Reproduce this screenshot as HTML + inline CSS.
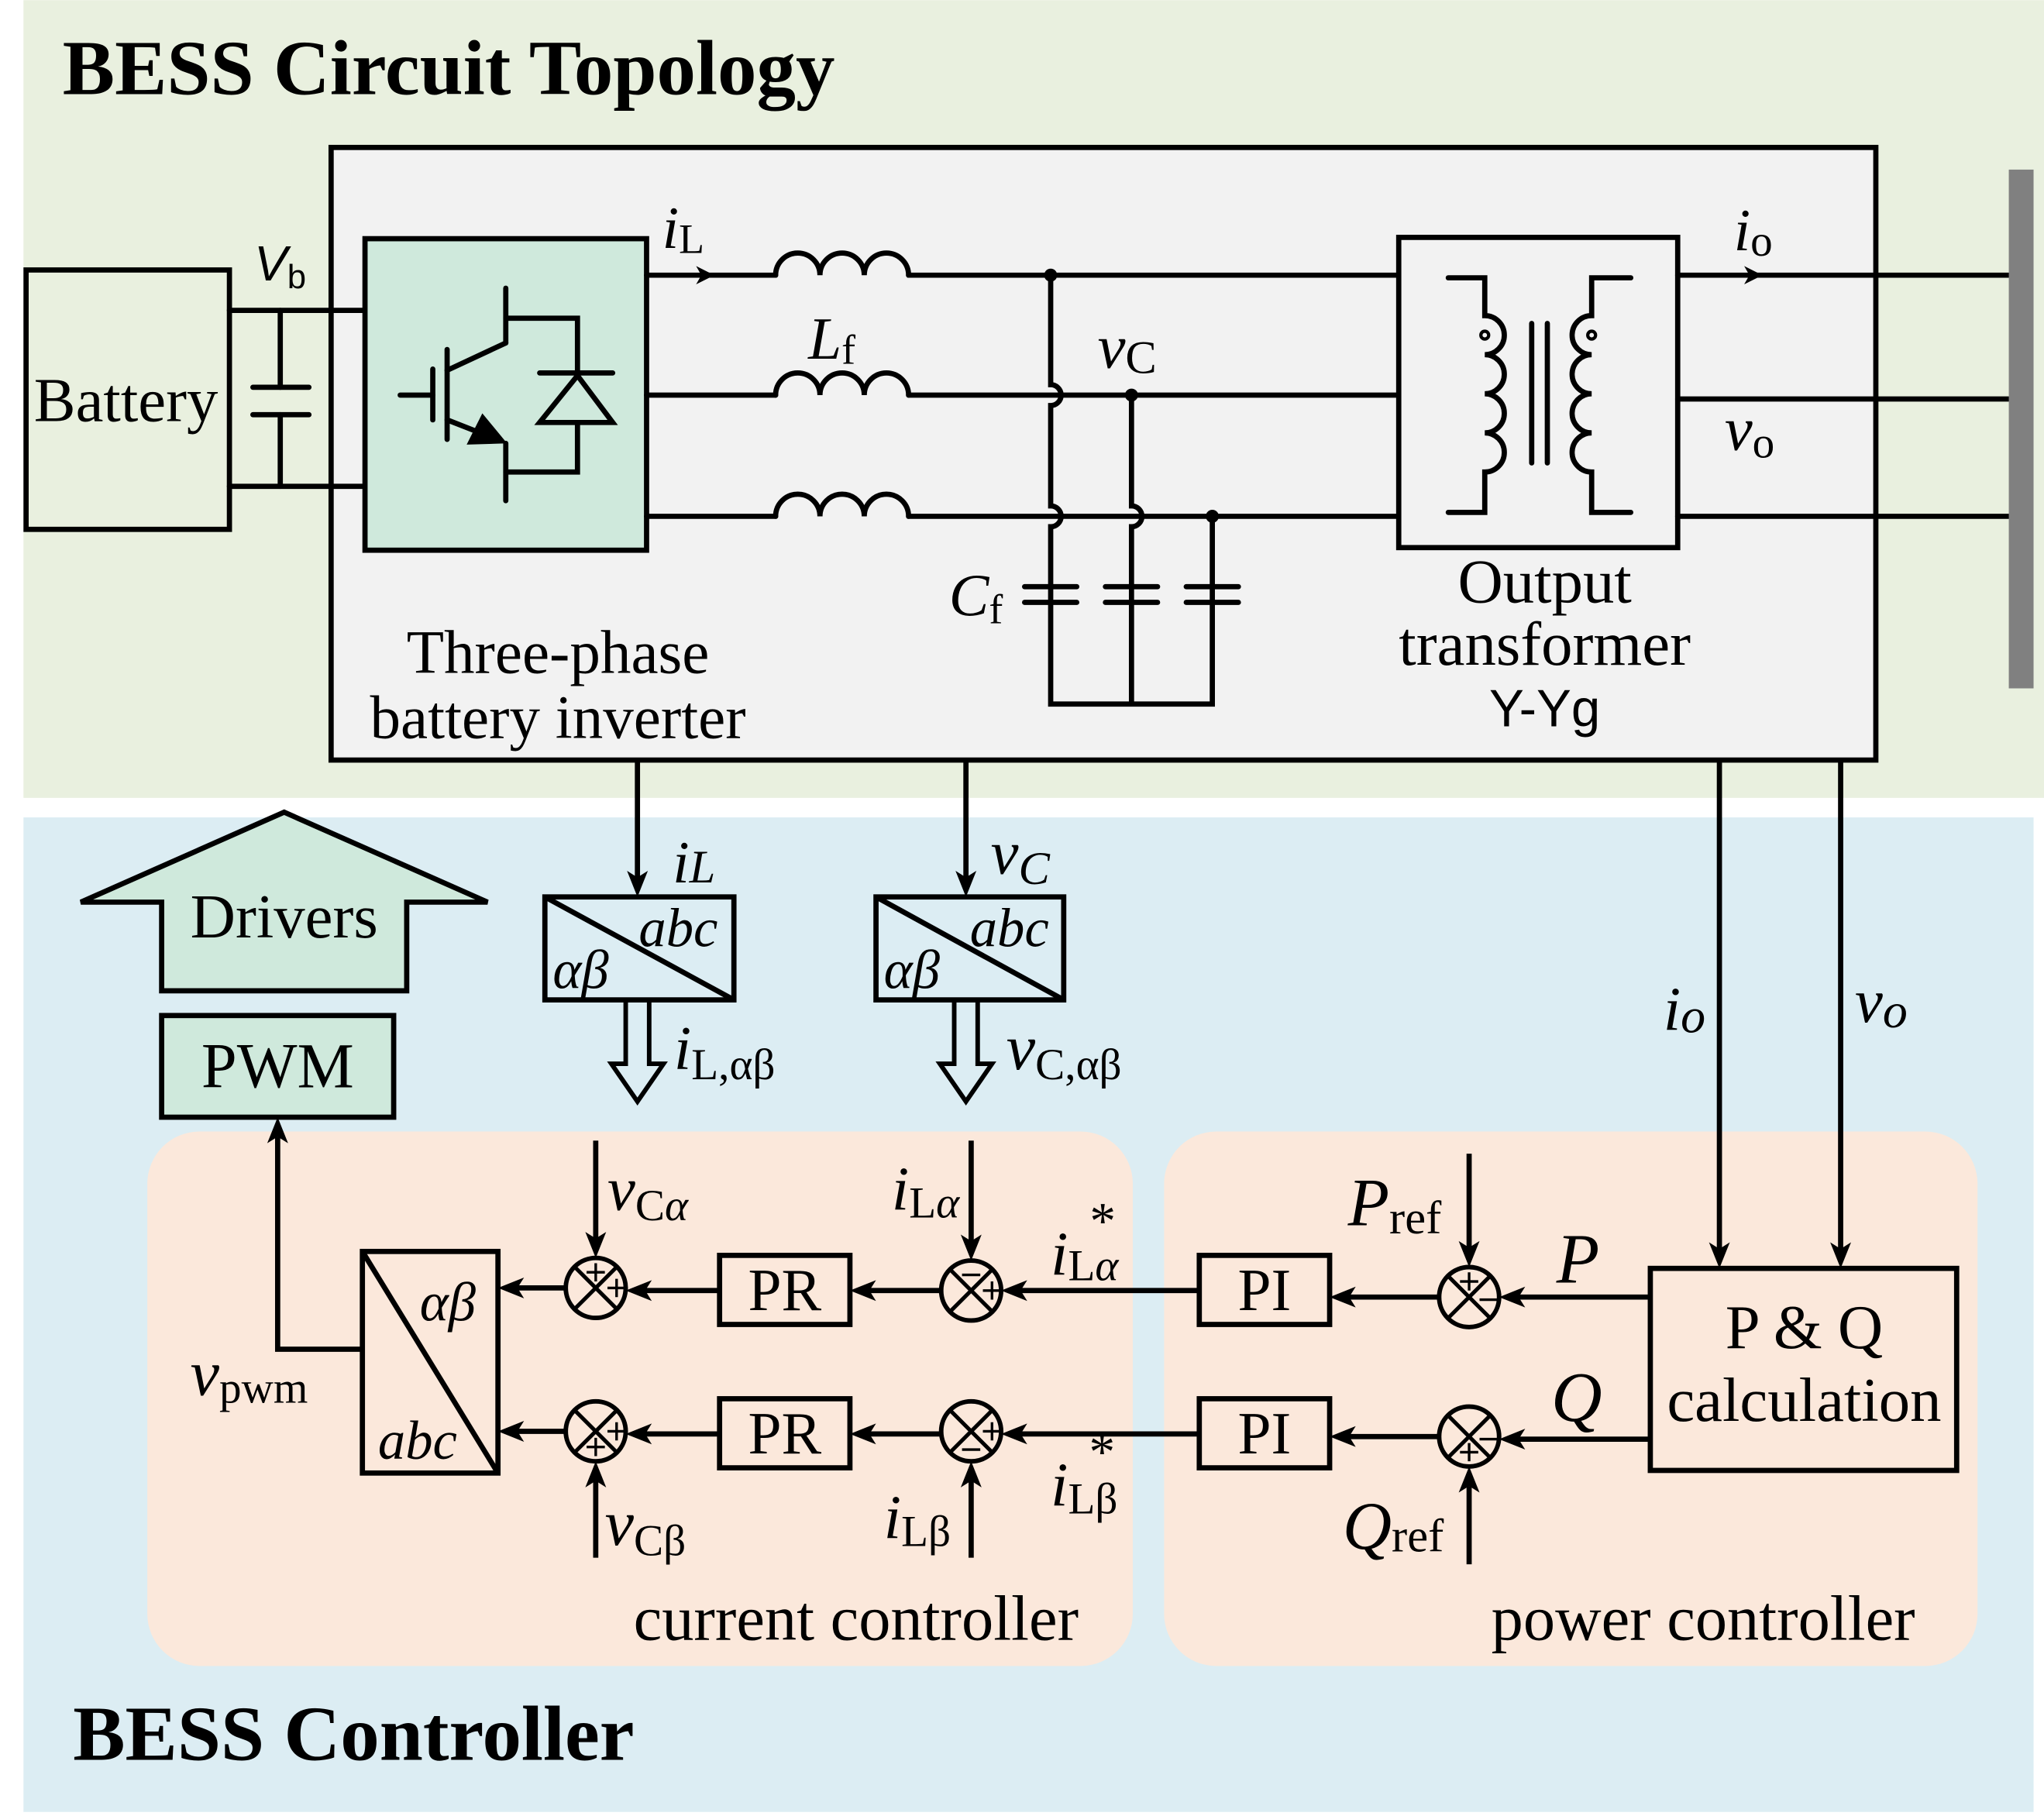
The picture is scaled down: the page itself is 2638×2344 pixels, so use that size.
<!DOCTYPE html>
<html><head><meta charset="utf-8"><style>
html,body{margin:0;padding:0;background:#fff}
svg{display:block}
text{font-family:"Liberation Serif",serif;fill:#000}
</style></head><body>
<svg width="2638" height="2344" viewBox="0 0 1568 1393" xmlns="http://www.w3.org/2000/svg">
<rect x="0" y="0" width="1568" height="1393" fill="#fff"/>
<rect x="18" y="0" width="1550" height="612" fill="#e9f0df"/>
<rect x="18" y="627" width="1542" height="763" fill="#dcedf3"/>
<text x="48" y="72" font-size="60" font-weight="bold">BESS Circuit Topology</text>
<text x="56" y="1350" font-size="60" font-weight="bold">BESS Controller</text>

<g stroke="#000" stroke-width="4" fill="none" stroke-linecap="round">
<rect x="254" y="113" width="1185" height="470" fill="#f2f2f2"/>
<rect x="20" y="207" width="156" height="199" fill="none"/>
<line x1="176" y1="238" x2="280" y2="238"/>
<line x1="176" y1="373" x2="280" y2="373"/>
<line x1="215" y1="238" x2="215" y2="297"/>
<line x1="215" y1="318" x2="215" y2="373"/>
<line x1="194" y1="297" x2="237" y2="297"/>
<line x1="194" y1="318" x2="237" y2="318"/>
<rect x="280" y="183" width="216" height="239" fill="#cfe9dc"/>
<!-- IGBT -->
<line x1="388" y1="221" x2="388" y2="263"/>
<polyline points="388,244 443,244 443,286"/>
<line x1="388" y1="263" x2="343" y2="284"/>
<line x1="343" y1="268" x2="343" y2="337"/>
<line x1="332" y1="283" x2="332" y2="322"/>
<line x1="307" y1="303" x2="332" y2="303"/>
<line x1="343" y1="322" x2="366" y2="331"/>
<polyline points="388,340 388,384"/>
<polyline points="388,362 443,362 443,324"/>
<line x1="414" y1="286" x2="470" y2="286"/>
<polygon points="443,288 414,324 470,324"/>
<!-- lines -->
<line x1="496" y1="211" x2="595" y2="211"/>
<line x1="496" y1="303" x2="595" y2="303"/>
<line x1="496" y1="396" x2="595" y2="396"/>
<path d="M595,211 a17,17 0 0 1 34,0 a17,17 0 0 1 34,0 a17,17 0 0 1 34,0"/>
<path d="M595,303 a17,17 0 0 1 34,0 a17,17 0 0 1 34,0 a17,17 0 0 1 34,0"/>
<path d="M595,396 a17,17 0 0 1 34,0 a17,17 0 0 1 34,0 a17,17 0 0 1 34,0"/>
<line x1="697" y1="211" x2="1073" y2="211"/>
<line x1="697" y1="303" x2="1073" y2="303"/>
<line x1="697" y1="396" x2="1073" y2="396"/>
<path d="M806,211 V295 a8,8 0 0 1 0,16 V388 a8,8 0 0 1 0,16 V462"/>
<path d="M868,303 V388 a8,8 0 0 1 0,16 V462"/>
<path d="M930,396 V462"/>
<line x1="786" y1="450" x2="826" y2="450"/><line x1="786" y1="462" x2="826" y2="462"/>
<line x1="848" y1="450" x2="888" y2="450"/><line x1="848" y1="462" x2="888" y2="462"/>
<line x1="910" y1="450" x2="950" y2="450"/><line x1="910" y1="462" x2="950" y2="462"/>
<path d="M806,462 V540 H930 V462 M868,462 V540"/>
<!-- transformer -->
<rect x="1073" y="182" width="214" height="238" fill="#f2f2f2"/>
<path d="M1111,213 H1139 V242 a15,15 0 0 1 0,30 a15,15 0 0 1 0,30 a15,15 0 0 1 0,30 a15,15 0 0 1 0,30 V393 H1111"/>
<path d="M1251,213 H1221 V242 a15,15 0 0 0 0,30 a15,15 0 0 0 0,30 a15,15 0 0 0 0,30 a15,15 0 0 0 0,30 V393 H1251"/>
<line x1="1175" y1="248" x2="1175" y2="355"/>
<line x1="1187" y1="248" x2="1187" y2="355"/>
<circle cx="1139" cy="257" r="3" stroke-width="2.5"/>
<circle cx="1221" cy="257" r="3" stroke-width="2.5"/>
<line x1="1287" y1="211" x2="1541" y2="211"/>
<line x1="1287" y1="306" x2="1541" y2="306"/>
<line x1="1287" y1="396" x2="1541" y2="396"/>
</g>
<rect x="1541" y="130" width="19" height="398" fill="#808080"/>
<g fill="#000">
<circle cx="806" cy="211" r="5"/><circle cx="868" cy="303" r="5"/><circle cx="930" cy="396" r="5"/>
<polygon points="534,204 548,211 534,218 538,211"/>
<polygon points="1338,204 1352,211 1338,218 1342,211"/>
<polygon points="389,340 370,317 358,341"/>
</g>
<text x="26" y="323" font-size="48">Battery</text>
<text x="195" y="215" style="font-family:'Liberation Sans',sans-serif" font-size="38" font-style="italic">V<tspan font-style="normal" font-size="26" dy="6">b</tspan></text>
<text x="508" y="190" font-size="46" font-style="italic">i<tspan font-style="normal" font-size="32" dy="4">L</tspan></text>
<text x="620" y="275" font-size="46" font-style="italic">L<tspan font-style="normal" font-size="32" dy="4">f</tspan></text>
<text x="842" y="282" font-size="48" font-style="italic">v<tspan font-style="normal" font-size="36" dy="4">C</tspan></text>
<text x="728" y="472" font-size="46" font-style="italic">C<tspan font-style="normal" font-size="32" dy="6">f</tspan></text>
<text x="1330" y="192" font-size="46" font-style="italic">i<tspan font-style="normal" font-size="34" dy="4">o</tspan></text>
<text x="1323" y="345" font-size="48" font-style="italic">v<tspan font-style="normal" font-size="34" dy="6">o</tspan></text>
<text x="428" y="516" font-size="47" text-anchor="middle">Three-phase</text>
<text x="428" y="566" font-size="47" text-anchor="middle">battery inverter</text>
<text x="1185" y="462" font-size="48" text-anchor="middle">Output</text>
<text x="1185" y="510" font-size="48" text-anchor="middle">transformer</text>
<text x="1185" y="557" font-size="40" text-anchor="middle" style="font-family:'Liberation Sans',sans-serif">Y-Yg</text>

<!-- Controller -->
<rect x="113" y="868" width="756" height="410" rx="40" fill="#fbe8db"/>
<rect x="893" y="868" width="624" height="410" rx="40" fill="#fbe8db"/>
<polygon points="62,692 218,623 374,692 312,692 312,760 124,760 124,692" fill="#cfe9dc" stroke="#000" stroke-width="4"/>
<text x="218" y="719" font-size="48" text-anchor="middle">Drivers</text>
<rect x="124" y="779" width="178" height="78" fill="#cfe9dc" stroke="#000" stroke-width="4"/>
<text x="213" y="834" font-size="49" text-anchor="middle">PWM</text>

<g stroke="#000" stroke-width="4" fill="none">
<line x1="489" y1="583" x2="489" y2="675"/>
<line x1="741" y1="583" x2="741" y2="675"/>
<rect x="418" y="688" width="145" height="79"/>
<line x1="418" y1="688" x2="563" y2="767"/>
<rect x="672" y="688" width="144" height="79"/>
<line x1="672" y1="688" x2="816" y2="767"/>
<polygon points="480,767 498,767 498,816 509,816 489,845 469,816 480,816" stroke-width="3.5"/>
<polygon points="732,767 750,767 750,816 761,816 741,845 721,816 732,816" stroke-width="3.5"/>
<line x1="1319" y1="583" x2="1319" y2="958"/>
<line x1="1412" y1="583" x2="1412" y2="958"/>
<rect x="1266" y="973" width="235" height="155"/>
<rect x="278" y="960" width="104" height="170"/>
<line x1="278" y1="960" x2="382" y2="1130"/>
<rect x="552" y="963" width="100" height="53"/>
<rect x="552" y="1073" width="100" height="53"/>
<rect x="920" y="963" width="100" height="53"/>
<rect x="920" y="1073" width="100" height="53"/>
<g stroke-width="3.5">
<circle cx="457" cy="988" r="23"/><circle cx="745" cy="990" r="23"/><circle cx="1127" cy="995" r="23"/>
<circle cx="457" cy="1098" r="23"/><circle cx="745" cy="1098" r="23"/><circle cx="1127" cy="1102" r="23"/>
</g>
<g stroke-width="3">
<path d="M441,972 l32,32 M473,972 l-32,32 M729,974 l32,32 M761,974 l-32,32 M1111,979 l32,32 M1143,979 l-32,32"/>
<path d="M441,1082 l32,32 M473,1082 l-32,32 M729,1082 l32,32 M761,1082 l-32,32 M1111,1086 l32,32 M1143,1086 l-32,32"/>
</g>
<g stroke-width="2">
<path d="M450,976 h14 M457,969 v14 M466,988 h14 M473,981 v14"/>
<path d="M738,978 h14 M754,990 h14 M761,983 v14"/>
<path d="M1120,983 h14 M1127,976 v14 M1135,997 h14"/>
<path d="M466,1098 h14 M473,1091 v14 M450,1110 h14 M457,1103 v14"/>
<path d="M754,1098 h14 M761,1091 v14 M738,1112 h14"/>
<path d="M1135,1104 h14 M1120,1114 h14 M1127,1107 v14"/>
</g>
<line x1="920" y1="990" x2="778" y2="990"/>
<line x1="722" y1="990" x2="666" y2="990"/>
<line x1="552" y1="990" x2="492" y2="990"/>
<line x1="434" y1="988" x2="396" y2="988"/>
<line x1="920" y1="1100" x2="778" y2="1100"/>
<line x1="722" y1="1100" x2="666" y2="1100"/>
<line x1="552" y1="1100" x2="492" y2="1100"/>
<line x1="434" y1="1098" x2="396" y2="1098"/>
<line x1="1104" y1="995" x2="1034" y2="995"/>
<line x1="1104" y1="1102" x2="1034" y2="1102"/>
<line x1="1266" y1="995" x2="1162" y2="995"/>
<line x1="1266" y1="1104" x2="1162" y2="1104"/>
<polyline points="278,1035 213,1035 213,872"/>
<line x1="457" y1="875" x2="457" y2="952"/>
<line x1="745" y1="875" x2="745" y2="954"/>
<line x1="1127" y1="885" x2="1127" y2="958"/>
<line x1="457" y1="1195" x2="457" y2="1136"/>
<line x1="745" y1="1195" x2="745" y2="1136"/>
<line x1="1127" y1="1200" x2="1127" y2="1140"/>
</g>
<g fill="#000">
<polygon points="489,688 481,668 489,673 497,668"/>
<polygon points="741,688 733,668 741,673 749,668"/>
<polygon points="1319,973 1311,953 1319,958 1327,953"/>
<polygon points="1412,973 1404,953 1412,958 1420,953"/>
<polygon points="213,857 205,877 213,872 221,877"/>
<polygon points="457,965 449,945 457,950 465,945"/>
<polygon points="745,967 737,947 745,952 753,947"/>
<polygon points="1127,972 1119,952 1127,957 1135,952"/>
<polygon points="457,1121 449,1141 457,1136 465,1141"/>
<polygon points="745,1121 737,1141 745,1136 753,1141"/>
<polygon points="1127,1125 1119,1145 1127,1140 1135,1145"/>
<polygon points="768,990 788,982 783,990 788,998"/>
<polygon points="652,990 672,982 667,990 672,998"/>
<polygon points="480,990 500,982 495,990 500,998"/>
<polygon points="382,988 402,980 397,988 402,996"/>
<polygon points="768,1100 788,1092 783,1100 788,1108"/>
<polygon points="652,1100 672,1092 667,1100 672,1108"/>
<polygon points="480,1100 500,1092 495,1100 500,1108"/>
<polygon points="382,1098 402,1090 397,1098 402,1106"/>
<polygon points="1020,995 1040,987 1035,995 1040,1003"/>
<polygon points="1020,1102 1040,1094 1035,1102 1040,1110"/>
<polygon points="1150,995 1170,987 1165,995 1170,1003"/>
<polygon points="1150,1104 1170,1096 1165,1104 1170,1112"/>
</g>
<text x="516" y="677" font-size="46" font-style="italic">i<tspan font-size="36">L</tspan></text>
<text x="760" y="670" font-size="48" font-style="italic">v<tspan font-size="36" dy="8">C</tspan></text>
<text x="424" y="758" font-size="42" font-style="italic">αβ</text>
<text x="490" y="726" font-size="42" font-style="italic">abc</text>
<text x="678" y="758" font-size="42" font-style="italic">αβ</text>
<text x="744" y="726" font-size="42" font-style="italic">abc</text>
<text x="517" y="820" font-size="48" font-style="italic">i<tspan font-style="normal" font-size="34" dy="8">L,αβ</tspan></text>
<text x="772" y="820" font-size="50" font-style="italic">v<tspan font-style="normal" font-size="34" dy="8">C,αβ</tspan></text>
<text x="1276" y="790" font-size="48" font-style="italic">i<tspan font-size="38" dy="2">o</tspan></text>
<text x="1423" y="784" font-size="48" font-style="italic">v<tspan font-size="38" dy="4">o</tspan></text>
<text x="466" y="928" font-size="48" font-style="italic">v<tspan font-style="normal" font-size="34" dy="8">C<tspan font-style="italic">α</tspan></tspan></text>
<text x="684" y="928" font-size="48" font-style="italic">i<tspan font-style="normal" font-size="34" dy="6">L<tspan font-style="italic">α</tspan></tspan></text>
<text x="806" y="978" font-size="48" font-style="italic">i<tspan font-style="normal" font-size="34" dy="4">L<tspan font-style="italic">α</tspan></tspan><tspan font-style="normal" font-size="40" dx="-22" dy="-32">*</tspan></text>
<text x="806" y="1155" font-size="48" font-style="italic">i<tspan font-style="normal" font-size="34" dy="6">Lβ</tspan><tspan font-style="normal" font-size="40" dx="-22" dy="-34">*</tspan></text>
<text x="464" y="1185" font-size="50" font-style="italic">v<tspan font-style="normal" font-size="34" dy="8">Cβ</tspan></text>
<text x="678" y="1180" font-size="48" font-style="italic">i<tspan font-style="normal" font-size="34" dy="6">Lβ</tspan></text>
<text x="602" y="1005" font-size="46" text-anchor="middle">PR</text>
<text x="602" y="1115" font-size="46" text-anchor="middle">PR</text>
<text x="970" y="1005" font-size="46" text-anchor="middle">PI</text>
<text x="970" y="1115" font-size="46" text-anchor="middle">PI</text>
<text x="322" y="1013" font-size="42" font-style="italic">αβ</text>
<text x="290" y="1119" font-size="42" font-style="italic">abc</text>
<text x="146" y="1070" font-size="50" font-style="italic">v<tspan font-style="normal" font-size="34" dy="6">pwm</tspan></text>
<text x="1034" y="940" font-size="52" font-style="italic">P<tspan font-style="normal" font-size="36" dy="6">ref</tspan></text>
<text x="1030" y="1188" font-size="52" font-style="italic">Q<tspan font-style="normal" font-size="36" dy="2">ref</tspan></text>
<text x="1194" y="984" font-size="54" font-style="italic">P</text>
<text x="1190" y="1090" font-size="54" font-style="italic">Q</text>
<text x="1384" y="1034" font-size="48" text-anchor="middle">P &amp; Q</text>
<text x="1384" y="1090" font-size="48" text-anchor="middle">calculation</text>
<text x="486" y="1258" font-size="49">current controller</text>
<text x="1144" y="1258" font-size="49">power controller</text>
</svg>
</body></html>
